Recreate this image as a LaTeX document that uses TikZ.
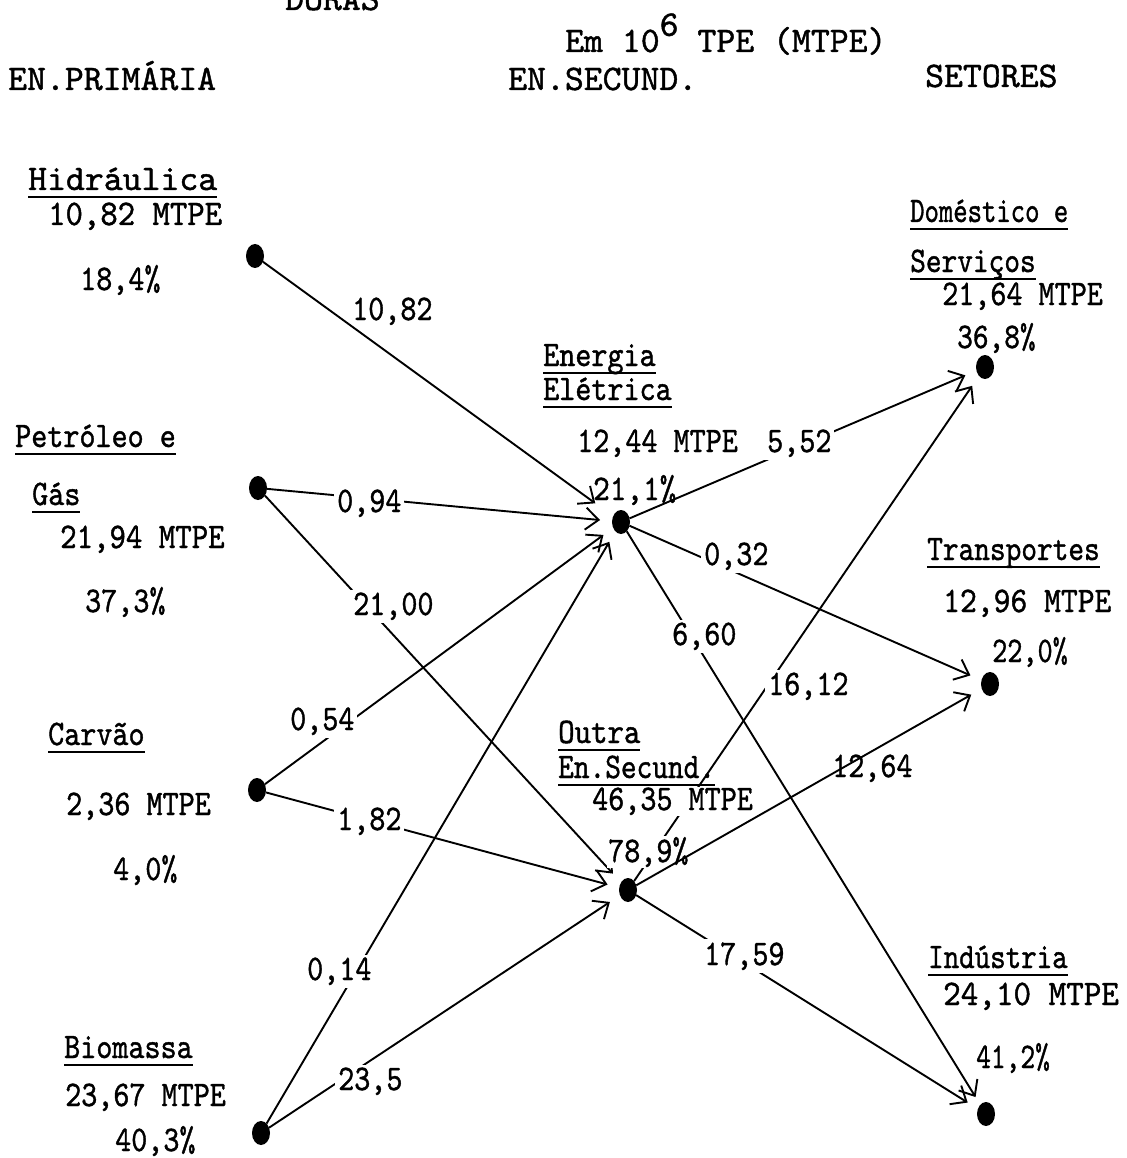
\documentclass[tikz,border=0pt]{standalone}
\usepackage{fontspec}
\usepackage{graphicx}
\usetikzlibrary{shapes.geometric,arrows.meta}

% typewriter face, slightly heavier than the plain mono
\setmonofont{lmmono10-regular.otf}[FakeBold=1.2]

% typewriter-style underline, a little below the baseline
\newsavebox{\ulbox}
\newcommand{\typeul}[1]{\sbox{\ulbox}{#1}\rlap{\rule[-0.22em]{\wd\ulbox}{0.065em}}\usebox{\ulbox}}
% condensed typewriter text
\newcommand{\narrowtxt}[2][0.85]{\scalebox{#1}[1]{#2}}

\begin{document}
\begin{tikzpicture}[x=1pt,y=-1pt,
  flowdot/.style={ellipse, fill=black, minimum width=18pt, minimum height=24pt, inner sep=0pt, outer sep=0pt},
  txt/.style={anchor=base west, inner sep=0pt, font=\ttfamily\fontsize{36}{40}\selectfont},
  val/.style={txt, fill=white, inner sep=3pt},
  flow/.style={line width=1.9pt, -{Straight Barb[length=13pt,width=22pt]}, shorten >=12pt}]

\useasboundingbox (0,0) rectangle (1126,1158);
\clip (0,0) rectangle (1126,1158);

% ---- nodes of the flow network ----
\node[flowdot] (H) at (255,256) {};
\node[flowdot] (P) at (258,488) {};
\node[flowdot] (C) at (257,790) {};
\node[flowdot] (B) at (261,1133) {};
\node[flowdot] (E) at (621,522) {};
\node[flowdot] (O) at (628,890) {};
\node[flowdot] (D) at (985,367) {};
\node[flowdot] (T) at (990,684) {};
\node[flowdot] (I) at (986,1114) {};

% ---- flows ----
\draw[flow, shorten >=22pt] (H) -- (E);
\draw[flow] (P) -- (E);
\draw[flow] (P) -- (O);
\draw[flow] (C) -- (E);
\draw[flow] (C) -- (O);
\draw[flow] (B) -- (E);
\draw[flow] (B) -- (O);
\draw[flow] (E) -- (D);
\draw[flow] (E) -- (T);
\draw[flow, shorten >=9pt] (E) -- (I);
\draw[flow] (O) -- (D);
\draw[flow] (O) -- (I);

% ---- headings ----
\node[txt] (hdoras) at (285,10) {DORAS};
\node[txt] (hunit) at (565,52) {Em 10\raisebox{0.45em}{6} TPE (MTPE)};
\node[txt] (hprim) at (8,90) {EN.PRIMÁRIA};
\node[txt] (hsec) at (508,90) {EN.SECUND.};
\node[txt] (hset) at (925,87) {SETORES};

% ---- primary sources ----
\node[txt] (tH1) at (28,190) {\typeul{Hidráulica}};
\node[txt] (tH2) at (48,225) {\narrowtxt[0.92]{10,82 MTPE}};
\node[txt] (tH3) at (80,290) {\narrowtxt{18,4\%}};

\node[txt] (tP1) at (15,447) {\narrowtxt{\typeul{Petróleo e}}};
\node[txt] (tP2) at (32,505) {\narrowtxt{\typeul{Gás}}};
\node[txt] (tP3) at (60,548) {\narrowtxt[0.87]{21,94 MTPE}};
\node[txt] (tP4) at (85,612) {\narrowtxt{37,3\%}};

\node[txt] (tC1) at (48,745) {\narrowtxt{\typeul{Carvão}}};
\node[txt] (tC2) at (66,815) {\narrowtxt{2,36 MTPE}};
\node[txt] (tC3) at (113,880) {\narrowtxt{4,0\%}};

\node[txt] (tB1) at (64,1058) {\narrowtxt{\typeul{Biomassa}}};
\node[txt] (tB2) at (65,1106) {\narrowtxt{23,67 MTPE}};
\node[txt] (tB3) at (115,1151) {\narrowtxt{40,3\%}};

% ---- secondary energy ----
\node[txt] (tE1) at (543,366) {\narrowtxt{\typeul{Energia}}};
\node[txt] (tE2) at (543,400) {\narrowtxt{\typeul{Elétrica}}};
\node[txt] (tE3) at (577,452) {\narrowtxt{12,44 MTPE}};
\node[txt] (tE4) at (593,500) {\narrowtxt[0.88]{21,1\%}};

\node[txt] (tO1) at (558,743) {\narrowtxt[0.87]{\typeul{Outra}}};
\node[txt] (tO2) at (558,778) {\narrowtxt[0.83]{\typeul{En.Secund.}}};
\node[txt, fill=white, inner sep=1pt] (tO3) at (591,810) {\narrowtxt{46,35 MTPE}};
\node[txt, fill=white, inner sep=1pt] (tO4) at (607,862) {\narrowtxt{78,9\%}};

% ---- sectors ----
\node[txt] (tD1) at (910,222) {\narrowtxt[0.76]{\typeul{Doméstico e}}};
\node[txt] (tD2) at (910,272) {\narrowtxt[0.83]{\typeul{Serviços}}};
\node[txt] (tD3) at (942,305) {\narrowtxt{21,64 MTPE}};
\node[txt] (tD4) at (957,348) {\narrowtxt[0.83]{36,8\%}};

\node[txt] (tT1) at (927,560) {\narrowtxt[0.83]{\typeul{Transportes}}};
\node[txt] (tT2) at (943,612) {\narrowtxt[0.89]{12,96 MTPE}};
\node[txt] (tT3) at (992,662) {\narrowtxt[0.8]{22,0\%}};

\node[txt] (tI1) at (928,968) {\narrowtxt[0.82]{\typeul{Indústria}}};
\node[txt] (tI2) at (943,1005) {\narrowtxt[0.93]{24,10 MTPE}};
\node[txt] (tI3) at (976,1068) {\narrowtxt[0.78]{41,2\%}};

% ---- flow values ----
\node[txt] (v1082) at (352,320) {\narrowtxt{10,82}};
\node[val] (v094) at (334,512) {\narrowtxt{0,94}};
\node[val] (v2100) at (350,615) {\narrowtxt{21,00}};
\node[val] (v054) at (287,730) {\narrowtxt{0,54}};
\node[val] (v182) at (334,830) {\narrowtxt{1,82}};
\node[val] (v014) at (304,980) {\narrowtxt{0,14}};
\node[val] (v235) at (335,1090) {\narrowtxt{23,5}};
\node[val] (v552) at (764,452) {\narrowtxt{5,52}};
\node[val] (v032) at (701,565) {\narrowtxt{0,32}};
\node[val] (v660) at (669,645) {\narrowtxt{6,60}};
\node[val] (v1612) at (765,695) {\narrowtxt{16,12}};
\node[val] (v1264) at (829,777) {\narrowtxt{12,64}};
\node[val] (v1759) at (701,965) {\narrowtxt{17,59}};

% drawn last so that it runs over the percentage label
\draw[flow] (O) -- (T);
\end{tikzpicture}
\end{document}
